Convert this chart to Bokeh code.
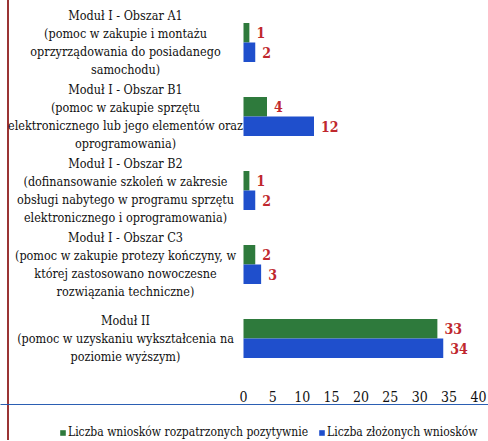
from bokeh.plotting import figure
from bokeh.layouts import column
from bokeh.models import ColumnDataSource, FixedTicker, Range1d
from bokeh.transform import dodge
from bokeh.core.properties import value
from bokeh.embed import file_html
from bokeh.resources import INLINE

# ---- data ----
categories = [
    "Moduł I - Obszar A1\n(pomoc w zakupie i montażu\noprzyrządowania do posiadanego\nsamochodu)",
    "Moduł I - Obszar B1\n(pomoc w zakupie sprzętu\nelektronicznego lub jego elementów oraz\noprogramowania)",
    "Moduł I - Obszar B2\n(dofinansowanie szkoleń w zakresie\nobsługi nabytego w programu sprzętu\nelektronicznego i oprogramowania)",
    "Moduł I - Obszar C3\n(pomoc w zakupie protezy kończyny, w\nktórej zastosowano nowoczesne\nrozwiązania techniczne)",
    "Moduł II\n(pomoc w uzyskaniu wykształcenia na\npoziomie wyższym)",
]
positive = [1, 4, 1, 2, 33]
submitted = [2, 12, 2, 3, 34]
series_names = ["Liczba wniosków rozpatrzonych pozytywnie", "Liczba złożonych wniosków"]
x_ticks = [0, 5, 10, 15, 20, 25, 30, 35, 40]

# ---- styling / layout ----
FONT_COND = "DejaVu Serif Condensed"
GREEN = "#2e7a3c"
BLUE = "#1f4fcc"
RED = "#c0282e"
EDGE = {"background": "linear-gradient(to right, #ffffff 7px, #9a3434 7px, #9a3434 9px, #ffffff 9px)"}
FRAME_W, FRAME_H = 488, 383
ZERO_PX = 243          # frame x of value 0
PX_PER_UNIT = 5.875
LABEL_CENTER_PX = 125  # frame x of category label centers
ROW0_PX = 42           # frame y of first row center
ROW_STEP_PX = 74
HALF = 0.1325          # bar height (in row units)

x_range = Range1d(-ZERO_PX / PX_PER_UNIT, (FRAME_W - ZERO_PX) / PX_PER_UNIT)
y_range = Range1d((FRAME_H - ROW0_PX) / ROW_STEP_PX, -ROW0_PX / ROW_STEP_PX)

p = figure(frame_width=FRAME_W, frame_height=FRAME_H, x_range=x_range, y_range=y_range,
           output_backend="svg", toolbar_location=None, y_axis_location=None,
           min_border_left=0, min_border_right=0, min_border_top=0, min_border_bottom=0)
p.outline_line_color = None
p.grid.visible = False
p.background_fill_color = None
p.border_fill_color = None
p.styles = EDGE

rows = list(range(len(categories)))
src = ColumnDataSource(dict(
    y=rows, cat=categories, pos=positive, sub=submitted,
    pos_t=[str(v) for v in positive], sub_t=[str(v) for v in submitted],
    lx=[(LABEL_CENTER_PX - ZERO_PX) / PX_PER_UNIT] * len(rows),
))

p.hbar(y=dodge("y", -HALF, range=p.y_range), right="pos", left=0, height=2 * HALF,
       source=src, color=GREEN, line_color=None)
p.hbar(y=dodge("y", HALF, range=p.y_range), right="sub", left=0, height=2 * HALF,
       source=src, color=BLUE, line_color=None)

for col, txt, off in (("pos", "pos_t", -HALF), ("sub", "sub_t", HALF)):
    p.text(x=col, y=dodge("y", off, range=p.y_range), text=txt, source=src,
           x_offset=7, text_baseline="middle", text_font=value(FONT_COND), text_font_style="bold",
           text_font_size="14px", text_color=RED)

p.text(x="lx", y="y", text="cat", source=src, text_align="center", text_baseline="middle",
       text_font=value(FONT_COND), text_font_size="12.5px", text_line_height=1.2, text_color="#111111")

ax = p.xaxis[0]
ax.ticker = FixedTicker(ticks=x_ticks)
ax.axis_line_color = None
ax.major_tick_line_color = None
ax.minor_tick_line_color = None
ax.major_label_text_font = FONT_COND
ax.major_label_text_font_size = "14px"
ax.major_label_text_color = "#111111"
ax.major_label_standoff = 1

# ---- legend strip: same series drawn out of view, only its legend shows ----
q = figure(width=FRAME_W, height=36, x_range=Range1d(0, 1), y_range=Range1d(-3, -2),
           output_backend="svg", toolbar_location=None, x_axis_location=None, y_axis_location=None,
           min_border_left=0, min_border_right=0, min_border_top=0, min_border_bottom=0)
q.outline_line_color = None
q.grid.visible = False
q.background_fill_color = None
q.border_fill_color = None
q.styles = EDGE
q.hbar(y="y", right="pos", left=0, height=0.5, source=src, color=GREEN, line_color=None,
       legend_label=series_names[0])
q.hbar(y="y", right="sub", left=0, height=0.5, source=src, color=BLUE, line_color=None,
       legend_label=series_names[1])

leg = q.legend[0]
leg.orientation = "horizontal"
leg.location = (59, 1)
leg.border_line_color = None
leg.background_fill_alpha = 0
leg.label_text_font = FONT_COND
leg.label_text_font_size = "12px"
leg.label_text_color = "#111111"
leg.glyph_width = 7
leg.glyph_height = 7
leg.label_standoff = 2
leg.spacing = 10
leg.padding = 0
leg.margin = 0

layout = column(p, q, spacing=0)
open("out.html", "w").write(file_html(layout, INLINE))
